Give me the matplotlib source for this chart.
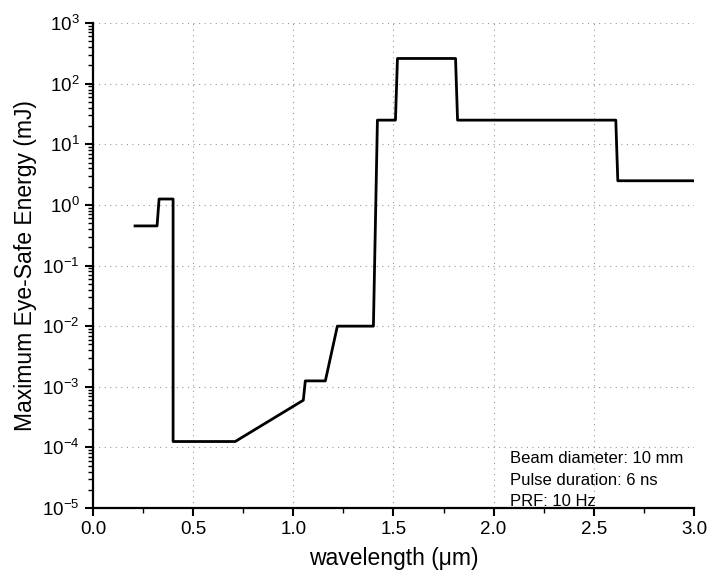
import matplotlib.pyplot as plt
import matplotlib.ticker as mticker

plt.rcParams['font.family'] = ['Liberation Sans', 'DejaVu Sans']

# vertices of the eye-safe energy curve (wavelength in um, energy in mJ)
wl = [0.21, 0.32, 0.33, 0.40, 0.40, 0.71, 1.05, 1.06, 1.16, 1.22,
      1.40, 1.42, 1.51, 1.52, 1.81, 1.82, 2.61, 2.62, 3.0]
energy = [0.45, 0.45, 1.25, 1.25, 1.25e-4, 1.25e-4, 6.0e-4, 1.25e-3, 1.25e-3, 1.0e-2,
          1.0e-2, 25, 25, 260, 260, 25, 25, 2.5, 2.5]

notes = ["Beam diameter: 10 mm", "Pulse duration: 6 ns", "PRF: 10 Hz"]

fig = plt.figure(figsize=(7.07, 5.81), dpi=100)
ax = fig.add_axes([0.1315, 0.1256, 0.85, 0.8348])

ax.plot(wl, energy, color='black', lw=2)
ax.set_yscale('log')
ax.set_xlim(0, 3.0)
ax.set_ylim(1e-5, 1e3)

ax.xaxis.set_major_locator(mticker.MultipleLocator(0.5))
ax.xaxis.set_minor_locator(mticker.MultipleLocator(0.25))
ax.xaxis.set_major_formatter(mticker.FormatStrFormatter('%.1f'))
ax.yaxis.set_major_locator(mticker.LogLocator(base=10, numticks=20))
ax.yaxis.set_minor_locator(mticker.LogLocator(base=10, subs=range(2, 10), numticks=20))
ax.yaxis.set_minor_formatter(mticker.NullFormatter())

ax.grid(True, which='major', color='#999999', linestyle=(0, (1, 4)), lw=0.8)

for s in ['top', 'right']:
    ax.spines[s].set_visible(False)
for s in ['left', 'bottom']:
    ax.spines[s].set_linewidth(1.6)

ax.tick_params(which='major', direction='out', length=6, width=1.5, labelsize=13.5)
ax.tick_params(which='minor', direction='out', length=3.5, width=1.0)

ax.set_xlabel('wavelength (\u03bcm)', fontsize=16.5, labelpad=6)
ax.set_ylabel('Maximum Eye-Safe Energy (mJ)', fontsize=16.5, labelpad=4)

for i, t in enumerate(notes):
    ax.text(2.08, 10 ** (-4.19 - 0.355 * i), t, fontsize=12, va='center', ha='left')

fig.savefig('out.png', dpi=100)
